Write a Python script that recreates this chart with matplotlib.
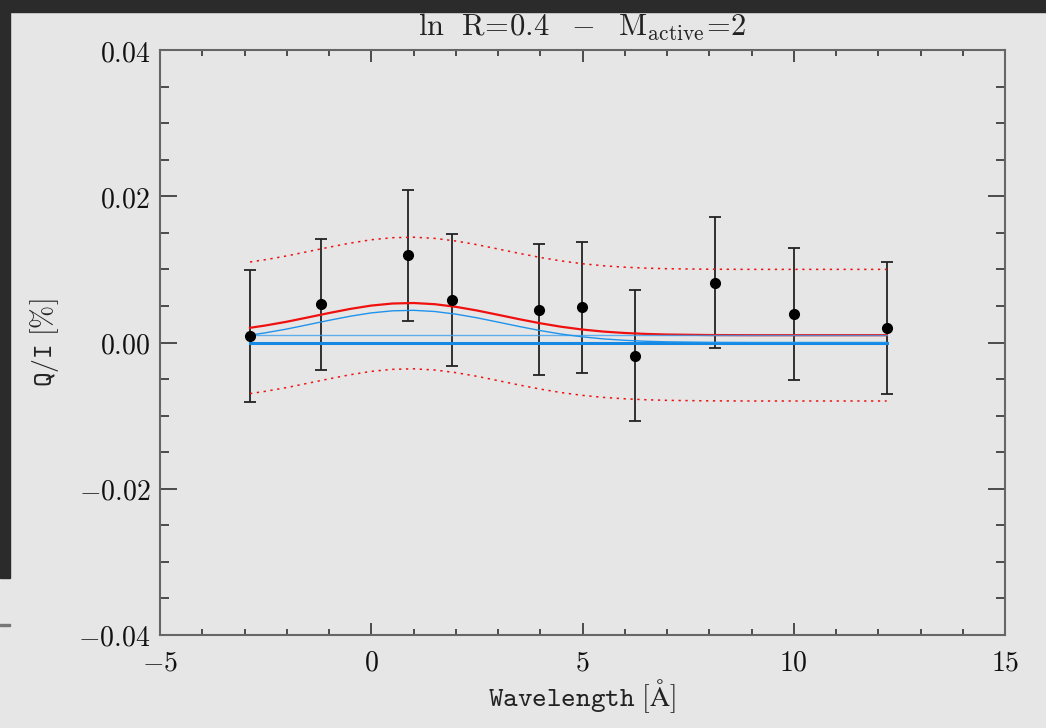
import matplotlib
matplotlib.use("Agg")
import matplotlib.pyplot as plt
from matplotlib.patches import Rectangle
from matplotlib.ticker import MultipleLocator, FuncFormatter

plt.rcParams['mathtext.fontset'] = 'cm'

# Observations
wavelength = [-2.87, -1.19, 0.88, 1.90, 3.97, 4.99, 6.24, 8.13, 10.0, 12.2]
q_over_i = [0.0009, 0.0052, 0.0119, 0.0058, 0.0045, 0.0048, -0.0018, 0.0082, 0.0039, 0.0020]
q_err = [0.009, 0.009, 0.009, 0.009, 0.009, 0.009, 0.009, 0.009, 0.009, 0.009]

# Model curves
model_x = [-2.87, -2.5, -2.0, -1.5, -1.0, -0.5, 0.0, 0.5, 1.0, 1.5, 2.0, 2.5, 3.0,
           3.5, 4.0, 4.5, 5.0, 5.5, 6.0, 6.5, 7.0, 8.0, 9.0, 10.0, 11.0, 12.2]
active_comp = [0.00101, 0.00133, 0.00184, 0.00243, 0.00303, 0.00359, 0.00405, 0.00433,
               0.00440, 0.00424, 0.00388, 0.00338, 0.00279, 0.00219, 0.00163, 0.00115,
               0.00077, 0.00049, 0.00030, 0.00017, 0.00009, 0.00002, 0.0, 0.0, 0.0, 0.0]
total_model = [0.00201, 0.00233, 0.00284, 0.00343, 0.00403, 0.00459, 0.00505, 0.00533,
               0.00540, 0.00524, 0.00488, 0.00438, 0.00379, 0.00319, 0.00263, 0.00215,
               0.00177, 0.00149, 0.00130, 0.00117, 0.00109, 0.00102, 0.00100, 0.00100,
               0.00100, 0.00100]
upper_band = [0.01101, 0.01133, 0.01184, 0.01243, 0.01303, 0.01359, 0.01405, 0.01433,
              0.01440, 0.01424, 0.01388, 0.01338, 0.01279, 0.01219, 0.01163, 0.01115,
              0.01077, 0.01049, 0.01030, 0.01017, 0.01009, 0.01002, 0.01000, 0.01000,
              0.01000, 0.01000]
lower_band = [-0.00699, -0.00667, -0.00616, -0.00557, -0.00497, -0.00441, -0.00395,
              -0.00367, -0.00360, -0.00376, -0.00412, -0.00462, -0.00521, -0.00581,
              -0.00637, -0.00685, -0.00723, -0.00751, -0.00770, -0.00783, -0.00791,
              -0.00798, -0.00800, -0.00800, -0.00800, -0.00800]
line_x = [-2.87, 12.2]
zero_level = [0.0, 0.0]
offset_level = [0.001, 0.001]

x_ticks = [-5, 0, 5, 10, 15]
y_ticks = [-0.04, -0.02, 0.00, 0.02, 0.04]

bg = '#e6e6e6'
fig = plt.figure(figsize=(10.46, 7.28), dpi=100, facecolor=bg)
ax = fig.add_axes([160/1046, 1-635/728, 845/1046, 585/728])
ax.set_facecolor(bg)

# screenshot dark frame
fig.patches.append(Rectangle((0, 1-12/728), 1, 12/728, transform=fig.transFigure,
                             color='#2b2b2b', zorder=0))
fig.patches.append(Rectangle((0, 1-578/728), 10/1046, 578/728, transform=fig.transFigure,
                             color='#2b2b2b', zorder=0))
fig.patches.append(Rectangle((0, 1-626/728), 10/1046, 2/728, transform=fig.transFigure,
                             color='#777777', zorder=0))

blue = '#1589e3'
red = '#f01010'
ax.errorbar(wavelength, q_over_i, yerr=q_err, fmt='none',
            ecolor='#222222', elinewidth=1.3, capsize=4.5, capthick=1.3, zorder=1)
ax.plot(model_x, total_model, color=red, lw=1.6, zorder=2)
ax.plot(model_x, upper_band, color=red, lw=1.1, ls=(0, (1.5, 3)), zorder=2)
ax.plot(model_x, lower_band, color=red, lw=1.1, ls=(0, (1.5, 3)), zorder=2)
ax.plot(line_x, zero_level, color=blue, lw=2.2, zorder=3)
ax.plot(line_x, offset_level, color='#3aa0f0', lw=1.0, alpha=0.8, zorder=3)
ax.plot(model_x, active_comp, color='#1f93ec', lw=1.0, zorder=3)
ax.plot(wavelength, q_over_i, 'o', color='black', ms=7, zorder=5)

ax.set_xlim(-5, 15)
ax.set_ylim(-0.04, 0.04)
ax.set_xticks(x_ticks)
ax.set_yticks(y_ticks)
ax.xaxis.set_minor_locator(MultipleLocator(1))
ax.yaxis.set_minor_locator(MultipleLocator(0.005))
ax.xaxis.set_major_formatter(FuncFormatter(lambda v, p: r'$%d$' % v))
ax.yaxis.set_major_formatter(FuncFormatter(lambda v, p: r'$%.2f$' % v))
ax.tick_params(which='both', direction='in', top=True, right=True, color='#222222',
               labelsize=20, labelcolor='#111111')
ax.tick_params(axis='x', which='major', length=8.5, width=1.1, pad=10)
ax.tick_params(axis='x', which='minor', length=4.5, width=1.1)
ax.tick_params(axis='y', which='major', length=12.5, width=1.1, pad=7)
ax.tick_params(axis='y', which='minor', length=6.5, width=1.1)
for s in ax.spines.values():
    s.set_color('#666666')
    s.set_linewidth(1.5)

ax.set_title(r'$\mathrm{ln\ \ R\!=\!0.4\ \ -\ \ M_{active}\!=\!2}$',
             fontsize=22, pad=10, color='#222222')
ax.set_xlabel(r'$\mathtt{Wavelength\ [\AA]}$', fontsize=20,
              labelpad=0, color='#222222')
ax.set_ylabel(r'$\mathtt{Q/I\ [\%]}$', fontsize=20,
              labelpad=12, color='#222222')

fig.savefig('out.png', dpi=100, facecolor=bg)
